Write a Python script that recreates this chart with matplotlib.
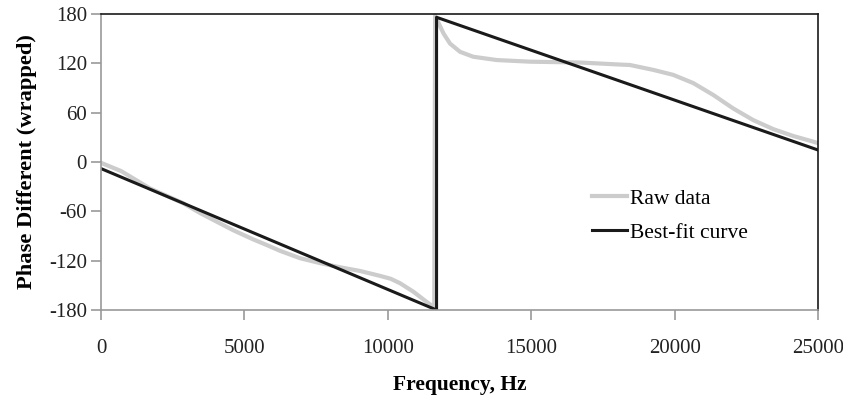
import matplotlib
matplotlib.use("Agg")
import matplotlib.pyplot as plt

# measured phase difference (deg), wrapped to +/-180
raw_freq = [0, 700, 1700, 2860, 3450, 4610, 5300, 5780, 6240, 6940, 7640, 8330,
            9030, 9730, 10100, 10430, 10890, 11350, 11590, 11620, 11650,
            11940, 12170, 12520, 12980, 13800, 14960, 16700, 18100, 18440,
            19260, 19950, 20650, 21350, 22050, 22740, 23440, 24140, 24840, 25000]
raw_phase = [-1, -11, -32, -50, -62, -83, -94, -101, -108, -117, -123, -128,
             -132.5, -138.5, -142, -147.5, -157.7, -170, -176, -180, 178,
             156.5, 144, 134, 128, 124, 122, 121, 118.5, 118,
             112, 106, 96, 81.5, 65, 51, 40, 31.6, 24.7, 23]

# linear fit, wrapped at the same frequency
fit_freq = [0, 11700, 11700, 25000]
fit_phase = [-8, -180, 176, 14.6]

plt.rcParams['font.family'] = ['Liberation Serif', 'DejaVu Serif']
plt.rcParams['axes.unicode_minus'] = False

fig = plt.figure(figsize=(8.43, 4.03), dpi=100)
ax = fig.add_axes([101 / 843, 1 - 310 / 403, 717 / 843, 296 / 403])

ax.plot(raw_freq, raw_phase, color='#cccccc', linewidth=3.0, label='Raw data',
        solid_joinstyle='round')
ax.plot(fit_freq, fit_phase, color='#1a1a1a', linewidth=2.2, label='Best-fit curve')

ax.set_xlim(0, 25000)
ax.set_ylim(-180, 180)
ax.set_xticks(range(0, 25001, 5000))
ax.set_yticks(range(-180, 181, 60))

for side in ('left', 'bottom'):
    ax.spines[side].set_color('#999999')
    ax.spines[side].set_linewidth(1.2)
for side in ('top', 'right'):
    ax.spines[side].set_color('#1a1a1a')
    ax.spines[side].set_linewidth(1.2)

ax.tick_params(axis='both', direction='out', length=7, width=1.2, color='#999999',
               labelsize=15, labelcolor='#222222')
ax.tick_params(axis='x', pad=14)
ax.tick_params(axis='y', pad=3)

ax.set_xlabel('Frequency, Hz', fontsize=15.5, fontweight='bold', labelpad=12)
ax.set_ylabel('Phase Different (wrapped)', fontsize=16.2, fontweight='bold', labelpad=9)

ax.legend(loc='upper left', bbox_to_anchor=(0.685, 0.41), frameon=False,
          borderpad=0, borderaxespad=0,
          fontsize=15.5, handlelength=1.6, handletextpad=0.15, labelspacing=0.65)

fig.savefig('out.png', dpi=100)
